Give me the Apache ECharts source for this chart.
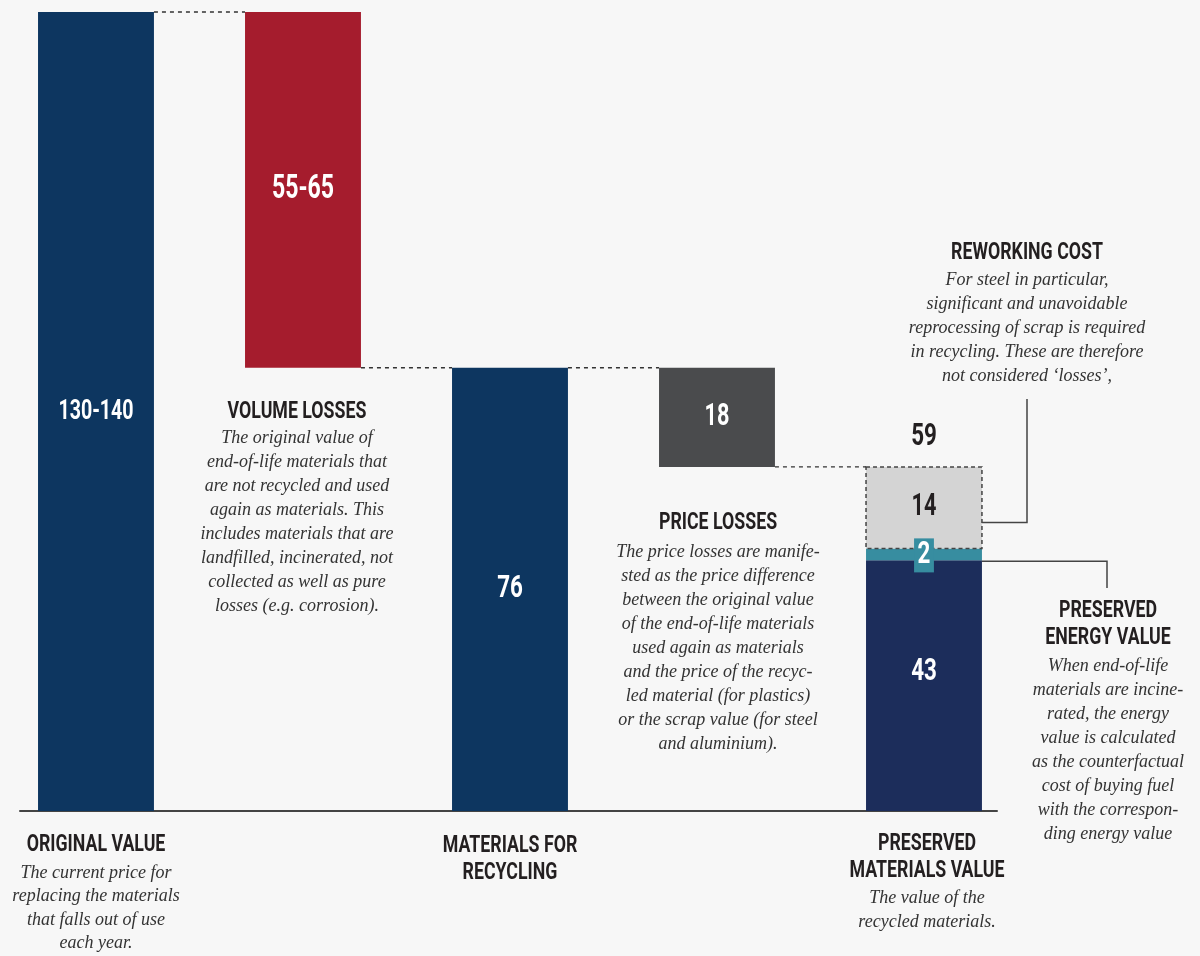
<!DOCTYPE html>
<html><head><meta charset="utf-8">
<script src="https://cdn.jsdelivr.net/npm/echarts@6/dist/echarts.min.js"></script>
<style>html,body{margin:0;padding:0;background:#f7f7f7}#c{width:1200px;height:956px}</style>
</head><body><div id="c"></div>
<script>
// ---- data ----
const categories = ['Original value', 'Volume losses', 'Materials for recycling', 'Price losses', 'Preserved materials value'];
const originalValue = 137;      // shown as 130-140
const volumeLosses = 61;        // shown as 55-65
const recyclingValue = 76;
const priceLosses = 17;         // shown as 18
const preservedMaterials = 43;
const preservedEnergy = 2;
const reworkingCost = 14;
const valueLabels = ['130-140', '55-65', '76', '18', '43', '2', '14'];
const totalLabel = '59';

// ---- derived segments (x index, low, high) ----
const segments = [
  [0, 0, originalValue],
  [1, originalValue - volumeLosses, originalValue],
  [2, 0, recyclingValue],
  [3, recyclingValue - priceLosses, recyclingValue],
  [4, 0, preservedMaterials],
  [4, preservedMaterials, preservedMaterials + preservedEnergy],
  [4, preservedMaterials + preservedEnergy, preservedMaterials + preservedEnergy + reworkingCost]
];
const connectors = [
  [0, originalValue],
  [1, recyclingValue],
  [2, recyclingValue],
  [3, recyclingValue - priceLosses]
];
const totalPoint = [[4, preservedMaterials + preservedEnergy + reworkingCost]];

// ---- styles ----
const segStyles = [
  {fill: '#0d3660', text: '#fff', size: 28},
  {fill: '#a51c2d', text: '#fff', size: 33},
  {fill: '#0d3660', text: '#fff', size: 32},
  {fill: '#4a4b4d', text: '#fff', size: 31},
  {fill: '#1c2d5b', text: '#fff', size: 32, dy: -14},
  {fill: '#378da0', text: '#fff', size: 32, bg: '#378da0', pad: [1, 5, 0, 5], dy: 1},
  {fill: '#d4d4d4', text: '#231f20', size: 31, stroke: '#444', dash: [4, 3]}
];
const TITLE_FONT = 'bold 24px Roboto';
const BODY_FONT = 'italic 18px "Liberation Serif"';
const COND = 0.7;
const TITLE_COND = 0.74;

const chart = echarts.init(document.getElementById('c'), null, {renderer: 'canvas'});

function barWidth(api) { return api.size([1, 0])[0] * 0.56; }

chart.setOption({
  backgroundColor: '#f7f7f7',
  animation: false,
  grid: {left: 20, right: 203, top: 12, bottom: 145, outerBoundsMode: 'none', containLabel: false},
  xAxis: {
    type: 'value', min: -0.3671, max: 4.3527,
    axisLine: {show: true, onZero: true, lineStyle: {color: '#444', width: 2}},
    axisTick: {show: false}, axisLabel: {show: false}, splitLine: {show: false}
  },
  yAxis: {type: 'value', min: 0, max: originalValue, show: false},
  series: [
    {
      type: 'custom', name: 'segments', data: segments, clip: false,
      renderItem: function (params, api) {
        const i = params.dataIndex;
        const st = segStyles[i];
        const x = api.value(0), lo = api.value(1), hi = api.value(2);
        const top = api.coord([x, hi]), bot = api.coord([x, lo]);
        const w = barWidth(api);
        return {
          type: 'group',
          children: [
            {type: 'rect', z2: st.stroke ? 2 : 1,
             shape: {x: top[0] - w / 2, y: top[1], width: w, height: bot[1] - top[1]},
             style: {fill: st.fill, stroke: st.stroke || null, lineWidth: st.stroke ? 1.5 : 0, lineDash: st.dash || null}},
            {type: 'text', z2: 10, x: top[0], y: (top[1] + bot[1]) / 2 + (st.dy || 0), scaleX: COND,
             style: {text: valueLabels[i], fill: st.text, font: 'bold ' + st.size + 'px Roboto',
                     align: 'center', verticalAlign: 'middle',
                     backgroundColor: st.bg || null, padding: st.pad || 0, lineHeight: st.bg ? 33 : null}}
          ]
        };
      }
    },
    {
      type: 'custom', name: 'connectors', data: connectors, clip: false,
      renderItem: function (params, api) {
        const x = api.value(0), v = api.value(1);
        const w = barWidth(api);
        const a = api.coord([x, v]), b = api.coord([x + 1, v]);
        return {type: 'line', z2: 3,
          shape: {x1: a[0] + w / 2, y1: a[1], x2: b[0] - w / 2, y2: b[1]},
          style: {stroke: '#333', lineWidth: 1.3, lineDash: [4, 4]}};
      }
    },
    {
      type: 'custom', name: 'total', data: totalPoint, clip: false,
      renderItem: function (params, api) {
        const p = api.coord([api.value(0), api.value(1)]);
        return {type: 'text', x: p[0], y: p[1] - 30, scaleX: COND,
          style: {text: totalLabel, fill: '#231f20', font: 'bold 32px Roboto', align: 'center', verticalAlign: 'middle'}};
      }
    }
  ]
});

// ---- annotations ----
const notes = [
  {cx: 96, ty: 845, title: ['ORIGINAL VALUE'], by: 873, lh: 23.5,
   body: ['The current price for', 'replacing the materials', 'that falls out of use', 'each year.']},
  {cx: 510, ty: 846, title: ['MATERIALS FOR', 'RECYCLING'], body: []},
  {cx: 927, ty: 844, title: ['PRESERVED', 'MATERIALS VALUE'], by: 898, lh: 24,
   body: ['The value of the', 'recycled materials.']},
  {cx: 1108, ty: 611, title: ['PRESERVED', 'ENERGY VALUE'], by: 666, lh: 24,
   body: ['When end-of-life', 'materials are incine-', 'rated, the energy', 'value is calculated', 'as the counterfactual', 'cost of buying fuel', 'with the correspon-', 'ding energy value']},
  {cx: 1027, ty: 253, title: ['REWORKING COST'], by: 280, lh: 24,
   body: ['For steel in particular,', 'significant and unavoidable', 'reprocessing of scrap is required', 'in recycling. These are therefore', 'not considered \u2018losses\u2019,']},
  {cx: 297, ty: 412, title: ['VOLUME LOSSES'], by: 438, lh: 24,
   body: ['The original value of', 'end-of-life materials that', 'are not recycled and used', 'again as materials. This', 'includes materials that are', 'landfilled, incinerated, not', 'collected as well as pure', 'losses (e.g. corrosion).']},
  {cx: 718, ty: 523, title: ['PRICE LOSSES'], by: 552, lh: 24,
   body: ['The price losses are manife-', 'sted as the price difference', 'between the original value', 'of the end-of-life materials', 'used again as materials', 'and the price of the recyc-', 'led material (for plastics)', 'or the scrap value (for steel', 'and aluminium).']}
];

const graphics = [];
notes.forEach(function (n) {
  graphics.push({type: 'text', x: n.cx, y: n.ty - 13.5, scaleX: TITLE_COND, silent: true,
    style: {text: n.title.join('\n'), font: TITLE_FONT, fill: '#231f20', align: 'center', verticalAlign: 'top', lineHeight: 27}});
  if (n.body.length) {
    graphics.push({type: 'text', x: n.cx, y: n.by - n.lh / 2, silent: true,
      style: {text: n.body.join('\n'), font: BODY_FONT, fill: '#333', align: 'center', verticalAlign: 'top', lineHeight: n.lh}});
  }
});

// callout lines from the stacked bar to the notes
const halfW = 58;
const pRework = chart.convertToPixel({gridIndex: 0}, [4, preservedMaterials + preservedEnergy + reworkingCost * 0.32]);
const pEnergy = chart.convertToPixel({gridIndex: 0}, [4, preservedMaterials]);
graphics.push({type: 'polyline', silent: true,
  shape: {points: [[pRework[0] + halfW, pRework[1]], [1027, pRework[1]], [1027, 399]]},
  style: {stroke: '#444', lineWidth: 1.5, fill: null}});
graphics.push({type: 'polyline', silent: true,
  shape: {points: [[pEnergy[0] + halfW, pEnergy[1] + 1], [1107, pEnergy[1] + 1], [1107, 588]]},
  style: {stroke: '#444', lineWidth: 1.5, fill: null}});

chart.setOption({graphic: graphics});
</script>
</body></html>
